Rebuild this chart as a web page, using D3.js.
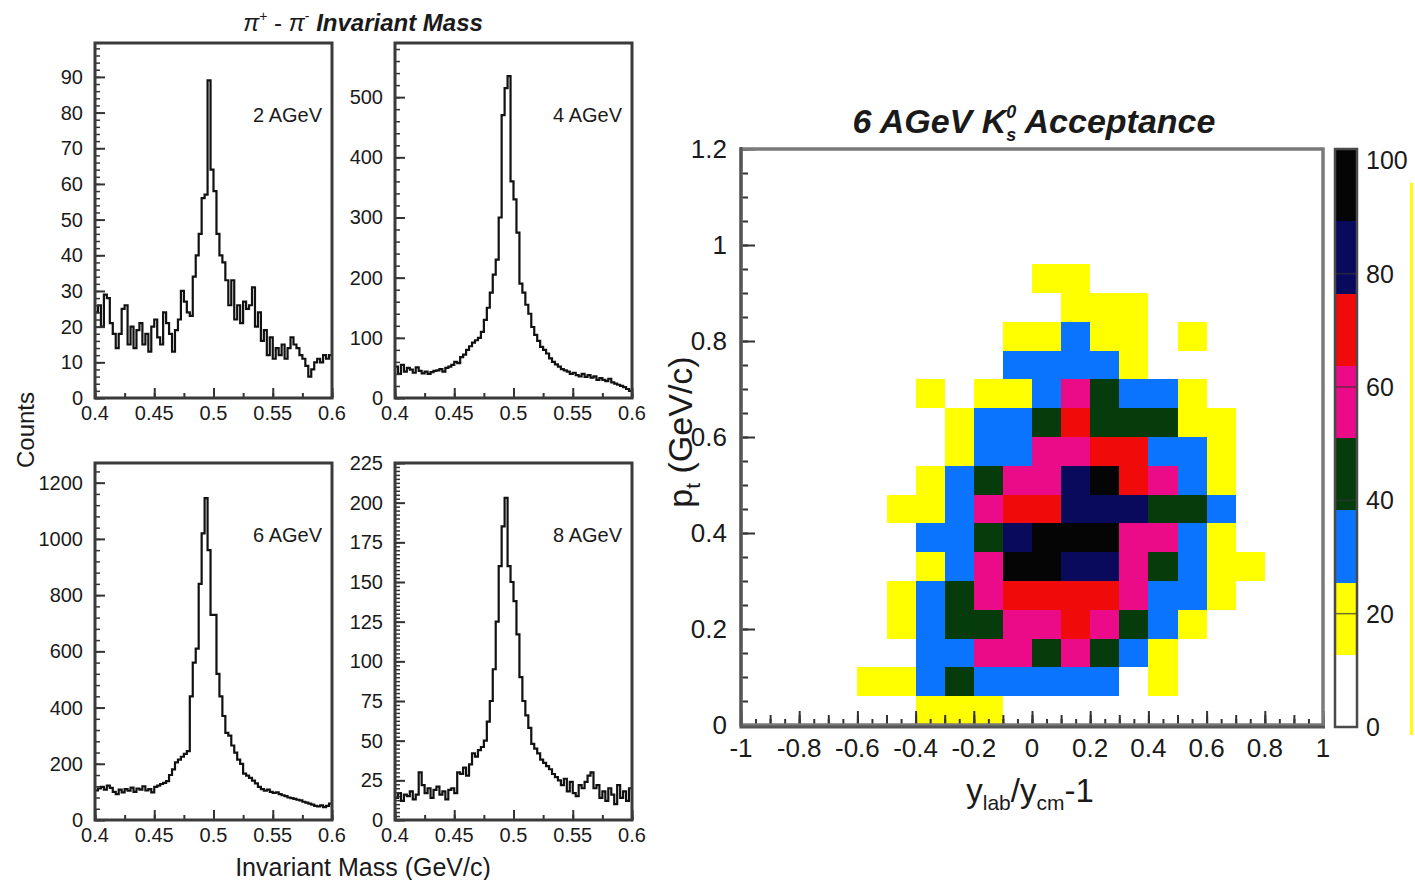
<!DOCTYPE html>
<html>
<head>
<meta charset="utf-8">
<script src="https://cdn.jsdelivr.net/npm/d3@7"></script>
<style>
  body { margin: 0; background: #fff; }
  svg text { font-family: "Liberation Sans", Arial, Helvetica, sans-serif; fill: #1a1a1a; }
</style>
</head>
<body>
<svg id="chart" width="1415" height="880"></svg>
<script>
// ---------- invariant mass histograms ----------
const massRange = [0.4, 0.6];
const massBinWidth = 0.0025;
const massTicks = [0.4, 0.45, 0.5, 0.55, 0.6];

const counts2AGeV = [
  24, 26, 20, 29, 28, 21, 18, 14, 18, 25,
  26, 15, 20, 14, 19, 21, 15, 18, 13, 20,
  22, 17, 15, 24, 21, 18, 13, 19, 22, 30,
  27, 24, 23, 34, 40, 46, 56, 57, 89, 64,
  58, 46, 40, 38, 33, 26, 33, 22, 26, 21,
  27, 25, 26, 31, 20, 24, 16, 19, 12, 17,
  11, 14, 12, 15, 11, 14, 17, 15, 14, 12,
  11, 9, 6, 8, 10, 11, 10, 12, 11, 12
];
const counts4AGeV = [
  52, 40, 55, 44, 50, 47, 42, 51, 45, 41,
  44, 40, 43, 45, 46, 48, 44, 50, 52, 55,
  60, 58, 68, 72, 80, 86, 92, 96, 100, 110,
  130, 150, 175, 205, 230, 300, 470, 515, 535, 360,
  330, 275, 190, 175, 155, 140, 118, 105, 95, 85,
  80, 74, 66, 60, 56, 52, 48, 46, 44, 40,
  42, 38, 36, 40, 35, 38, 34, 36, 30, 33,
  30, 28, 32, 26, 24, 22, 20, 18, 15, 12
];
const counts6AGeV = [
  105, 112, 118, 108, 122, 114, 100, 92, 108, 98,
  110, 104, 115, 100, 112, 108, 120, 105, 110, 98,
  118, 122, 128, 132, 138, 160, 180, 205, 215, 225,
  235, 245, 440, 560, 610, 840, 1020, 1145, 960, 730,
  730, 520, 440, 370, 310, 300, 265, 240, 215, 200,
  165, 158, 150, 140, 130, 118, 110, 104, 108, 100,
  96, 98, 92, 88, 85, 80, 78, 75, 72, 70,
  65, 62, 58, 55, 50, 48, 52, 46, 50, 58
];
const counts8AGeV = [
  14, 17, 12, 16, 15, 18, 13, 16, 30, 22,
  17, 20, 14, 19, 21, 16, 18, 13, 19, 20,
  17, 30, 29, 33, 28, 35, 42, 40, 44, 46,
  50, 62, 75, 95, 125, 160, 185, 203, 160, 150,
  138, 117, 90, 75, 66, 58, 48, 45, 42, 38,
  36, 34, 32, 29, 27, 25, 22, 26, 18, 24,
  17, 15, 22, 20, 24, 28, 30, 20, 22, 14,
  18, 12, 20, 16, 10, 22, 14, 18, 12, 20
];
const beamLabels = ["2 AGeV", "4 AGeV", "6 AGeV", "8 AGeV"];
const countsMax = [99.5, 590, 1270, 225];
const countsMajor = [10, 100, 200, 25];
const countsMinor = [2, 20, 40, 2.5];

// ---------- K0s acceptance map ----------
const rapidityRange = [-1, 1];
const rapidityBinWidth = 0.1;
const ptRange = [0, 1.2];
const ptBinWidth = 0.06;
const rapidityTicks = [-1, -0.8, -0.6, -0.4, -0.2, 0, 0.2, 0.4, 0.6, 0.8, 1];
const ptTicks = [0, 0.2, 0.4, 0.6, 0.8, 1, 1.2];
// rows from the highest pt bin (1.14-1.2) down to the lowest (0-0.06)
const acceptanceRows = [
  [0,0,0,0,0,0,0,0,0,0,0,0,0,0,0,0,0,0,0,0],
  [0,0,0,0,0,0,0,0,0,0,0,0,0,0,0,0,0,0,0,0],
  [0,0,0,0,0,0,0,0,0,0,0,0,0,0,0,0,0,0,0,0],
  [0,0,0,0,0,0,0,0,0,0,0,0,0,0,0,0,0,0,0,0],
  [0,0,0,0,0,0,0,0,0,0,19,19,0,0,0,0,0,0,0,0],
  [0,0,0,0,0,0,0,0,0,0,0,19,19,19,0,0,0,0,0,0],
  [0,0,0,0,0,0,0,0,0,19,19,32,19,19,0,19,0,0,0,0],
  [0,0,0,0,0,0,0,0,0,32,32,32,32,19,0,0,0,0,0,0],
  [0,0,0,0,0,0,19,0,19,19,32,57,45,32,32,19,0,0,0,0],
  [0,0,0,0,0,0,0,19,32,32,45,70,45,45,45,19,19,0,0,0],
  [0,0,0,0,0,0,0,19,32,32,57,57,70,70,32,32,19,0,0,0],
  [0,0,0,0,0,0,19,32,45,57,57,83,95,70,57,32,19,0,0,0],
  [0,0,0,0,0,19,19,32,57,70,70,83,83,83,45,45,32,0,0,0],
  [0,0,0,0,0,0,32,32,45,83,95,95,95,57,57,32,19,0,0,0],
  [0,0,0,0,0,0,19,32,57,95,95,83,83,57,45,32,19,19,0,0],
  [0,0,0,0,0,19,32,45,57,70,70,70,70,57,32,32,19,0,0,0],
  [0,0,0,0,0,19,32,45,45,57,57,70,57,45,32,19,0,0,0,0],
  [0,0,0,0,0,0,32,32,57,57,45,57,45,32,19,0,0,0,0,0],
  [0,0,0,0,19,19,32,45,32,32,32,32,32,0,19,0,0,0,0,0],
  [0,0,0,0,0,0,19,19,19,0,0,0,0,0,0,0,0,0,0,0]
];
const acceptanceMax = 102;
const acceptanceLevels = [12.75, 25.5, 38.25, 51, 63.75, 76.5, 89.25];
const acceptanceColors = ["#ffffff", "#ffff00", "#0a74ff", "#063c0c", "#eb0a87", "#f00a0a", "#0a0a5c", "#050505"];
const colorbarTicks = [0, 20, 40, 60, 80, 100];

// ---------- drawing ----------
const svg = d3.select("#chart");

function txt(parent, x, y, s, size, opts = {}) {
  return parent.append("text")
    .attr("x", x).attr("y", y)
    .attr("font-size", size)
    .attr("text-anchor", opts.anchor || "middle")
    .attr("font-weight", opts.weight || "normal")
    .attr("font-style", opts.style || "normal")
    .text(s);
}

function ticks(g, axis, color, width) {
  g.call(axis).call(a => a.select(".domain").remove());
  g.selectAll(".tick line").attr("stroke", color).attr("stroke-width", width);
  g.selectAll(".tick text").remove();
}

const panelBoxes = [
  { left: 95, right: 332, top: 43, bottom: 398 },
  { left: 395, right: 632, top: 43, bottom: 398 },
  { left: 95, right: 332, top: 463, bottom: 820 },
  { left: 395, right: 632, top: 463, bottom: 820 }
];

[counts2AGeV, counts4AGeV, counts6AGeV, counts8AGeV].forEach((counts, k) => {
  const b = panelBoxes[k];
  const x = d3.scaleLinear().domain(massRange).range([b.left, b.right]);
  const y = d3.scaleLinear().domain([0, countsMax[k]]).range([b.bottom, b.top]);
  const g = svg.append("g");

  const pts = counts.map((c, i) => [massRange[0] + i * massBinWidth, c]);
  pts.push([massRange[1], counts[counts.length - 1]]);
  const line = d3.line().x(d => x(d[0])).y(d => y(d[1])).curve(d3.curveStepAfter);
  g.append("path")
    .attr("d", line(pts))
    .attr("fill", "none")
    .attr("stroke", "#111")
    .attr("stroke-width", 2.2);

  // inward ticks, ROOT style
  const minorY = d3.range(0, countsMax[k] + 1e-6, countsMinor[k]);
  const majorY = d3.range(0, countsMax[k] + 1e-6, countsMajor[k]);
  ticks(g.append("g").attr("transform", `translate(${b.left},0)`),
    d3.axisLeft(y).tickValues(minorY).tickSize(-5), "#333", 1.5);
  ticks(g.append("g").attr("transform", `translate(${b.left},0)`),
    d3.axisLeft(y).tickValues(majorY).tickSize(-10), "#333", 2);
  ticks(g.append("g").attr("transform", `translate(0,${b.bottom})`),
    d3.axisBottom(x).tickValues(d3.range(0.4, 0.6001, 0.025)).tickSize(-5), "#333", 2);
  ticks(g.append("g").attr("transform", `translate(0,${b.bottom})`),
    d3.axisBottom(x).tickValues(massTicks).tickSize(-10), "#333", 2);

  g.append("rect")
    .attr("x", b.left).attr("y", b.top)
    .attr("width", b.right - b.left).attr("height", b.bottom - b.top)
    .attr("fill", "none").attr("stroke", "#3a3a3a").attr("stroke-width", 3);

  majorY.forEach(v => txt(g, b.left - 12, y(v) + 7, d3.format("d")(v), 20, { anchor: "end" }));
  massTicks.forEach(v => txt(g, x(v), b.bottom + 22, String(v), 20));

  txt(g, b.right - 10, b.top + 79, beamLabels[k], 20, { anchor: "end" });
});

// left figure titles
const t1 = svg.append("text").attr("x", 363).attr("y", 31).attr("text-anchor", "middle").attr("font-size", 24);
t1.append("tspan").attr("font-style", "italic").text("π");
t1.append("tspan").attr("font-size", 14).attr("dy", -10).text("+");
t1.append("tspan").attr("dy", 10).text(" - ");
t1.append("tspan").attr("font-style", "italic").text("π");
t1.append("tspan").attr("font-size", 14).attr("dy", -10).text("-");
t1.append("tspan").attr("dy", 10).attr("font-weight", "bold").attr("font-style", "italic").text(" Invariant Mass");

txt(svg, 363, 876, "Invariant Mass (GeV/c)", 25);
svg.append("text")
  .attr("transform", "translate(34,430) rotate(-90)")
  .attr("text-anchor", "middle").attr("font-size", 24)
  .text("Counts");

// ---------- acceptance heatmap ----------
const hx = d3.scaleLinear().domain(rapidityRange).range([741, 1323]);
const hy = d3.scaleLinear().domain(ptRange).range([725, 149]);
const color = d3.scaleThreshold().domain(acceptanceLevels).range(acceptanceColors);
const hg = svg.append("g");

const cells = [];
acceptanceRows.forEach((row, ri) => {
  const ptLow = ptRange[1] - (ri + 1) * ptBinWidth;
  row.forEach((v, c) => {
    if (v > 0) cells.push({ y0: rapidityRange[0] + c * rapidityBinWidth, pt0: ptLow, v });
  });
});
hg.selectAll("rect.cell")
  .data(cells)
  .enter()
  .append("rect")
  .classed("cell", true)
  .attr("x", d => hx(d.y0))
  .attr("width", d => hx(d.y0 + rapidityBinWidth) - hx(d.y0))
  .attr("y", d => hy(d.pt0 + ptBinWidth))
  .attr("height", d => hy(d.pt0) - hy(d.pt0 + ptBinWidth))
  .attr("fill", d => color(d.v))
  .attr("shape-rendering", "crispEdges");

ticks(hg.append("g").attr("transform", "translate(741,0)"),
  d3.axisLeft(hy).tickValues(d3.range(0, 1.2001, 0.05)).tickSize(-7), "#333", 2);
ticks(hg.append("g").attr("transform", "translate(741,0)"),
  d3.axisLeft(hy).tickValues(ptTicks).tickSize(-14), "#333", 2);
ticks(hg.append("g").attr("transform", "translate(0,725)"),
  d3.axisBottom(hx).tickValues(d3.range(-1, 1.0001, 0.05)).tickSize(-6), "#333", 2);
ticks(hg.append("g").attr("transform", "translate(0,725)"),
  d3.axisBottom(hx).tickValues(d3.range(-1, 1.0001, 0.1)).tickSize(-10), "#333", 2);
ticks(hg.append("g").attr("transform", "translate(0,725)"),
  d3.axisBottom(hx).tickValues(rapidityTicks).tickSize(-14), "#333", 2);

hg.append("rect")
  .attr("x", 741).attr("y", 149).attr("width", 582).attr("height", 576)
  .attr("fill", "none").attr("stroke", "#7a7a7a").attr("stroke-width", 3.5);
hg.append("path").attr("d", "M741,147V727H1325").attr("fill", "none").attr("stroke", "#555").attr("stroke-width", 3);

ptTicks.forEach(v => txt(hg, 727, hy(v) + 9, String(v), 26, { anchor: "end" }));
rapidityTicks.forEach(v => txt(hg, hx(v), 757, String(v), 26));

const ht = hg.append("text").attr("x", 1034).attr("y", 133).attr("text-anchor", "middle")
  .attr("font-size", 34).attr("font-weight", "bold").attr("font-style", "italic");
ht.append("tspan").text("6 AGeV K");
ht.append("tspan").attr("font-size", 18).attr("dy", -15).text("0");
ht.append("tspan").attr("font-size", 18).attr("dx", -10).attr("dy", 23).text("s");
ht.append("tspan").attr("dy", -8).text(" Acceptance");

const xt = hg.append("text").attr("x", 1030).attr("y", 802).attr("text-anchor", "middle").attr("font-size", 33);
xt.append("tspan").text("y");
xt.append("tspan").attr("font-size", 21).attr("dy", 8).text("lab");
xt.append("tspan").attr("dy", -8).text("/y");
xt.append("tspan").attr("font-size", 21).attr("dy", 8).text("cm");
xt.append("tspan").attr("dy", -8).text("-1");

const yt = hg.append("text").attr("transform", "translate(692,432) rotate(-90)")
  .attr("text-anchor", "middle").attr("font-size", 34);
yt.append("tspan").text("p");
yt.append("tspan").attr("font-size", 21).attr("dy", 8).text("t");
yt.append("tspan").attr("dy", -8).text(" (GeV/c)");

// colour bar
const cb = d3.scaleLinear().domain([0, acceptanceMax]).range([727, 149]);
const bandEdges = [0, ...acceptanceLevels, acceptanceMax];
const cg = svg.append("g");
cg.selectAll("rect.band")
  .data(acceptanceColors)
  .enter()
  .append("rect")
  .classed("band", true)
  .attr("x", 1335).attr("width", 22)
  .attr("y", (d, i) => cb(bandEdges[i + 1]))
  .attr("height", (d, i) => cb(bandEdges[i]) - cb(bandEdges[i + 1]))
  .attr("fill", d => d)
  .attr("shape-rendering", "crispEdges");
cg.selectAll("line.cbtick")
  .data(colorbarTicks.slice(1, -1))
  .enter()
  .append("line")
  .classed("cbtick", true)
  .attr("x1", 1335).attr("x2", 1357)
  .attr("y1", d => cb(d)).attr("y2", d => cb(d))
  .attr("stroke", "#333").attr("stroke-opacity", 0.7).attr("stroke-width", 1.5);
cg.append("rect")
  .attr("x", 1335).attr("y", 149).attr("width", 22).attr("height", 578)
  .attr("fill", "none").attr("stroke", "#4a4a4a").attr("stroke-width", 2.5);
colorbarTicks.forEach(v => txt(cg, 1366, cb(v) + 9, String(v), 25, { anchor: "start" }));

// clipped edge of a neighbouring figure
svg.append("rect").attr("x", 1410).attr("y", 183).attr("width", 3).attr("height", 552).attr("fill", "#ffff00");
</script>
</body>
</html>
